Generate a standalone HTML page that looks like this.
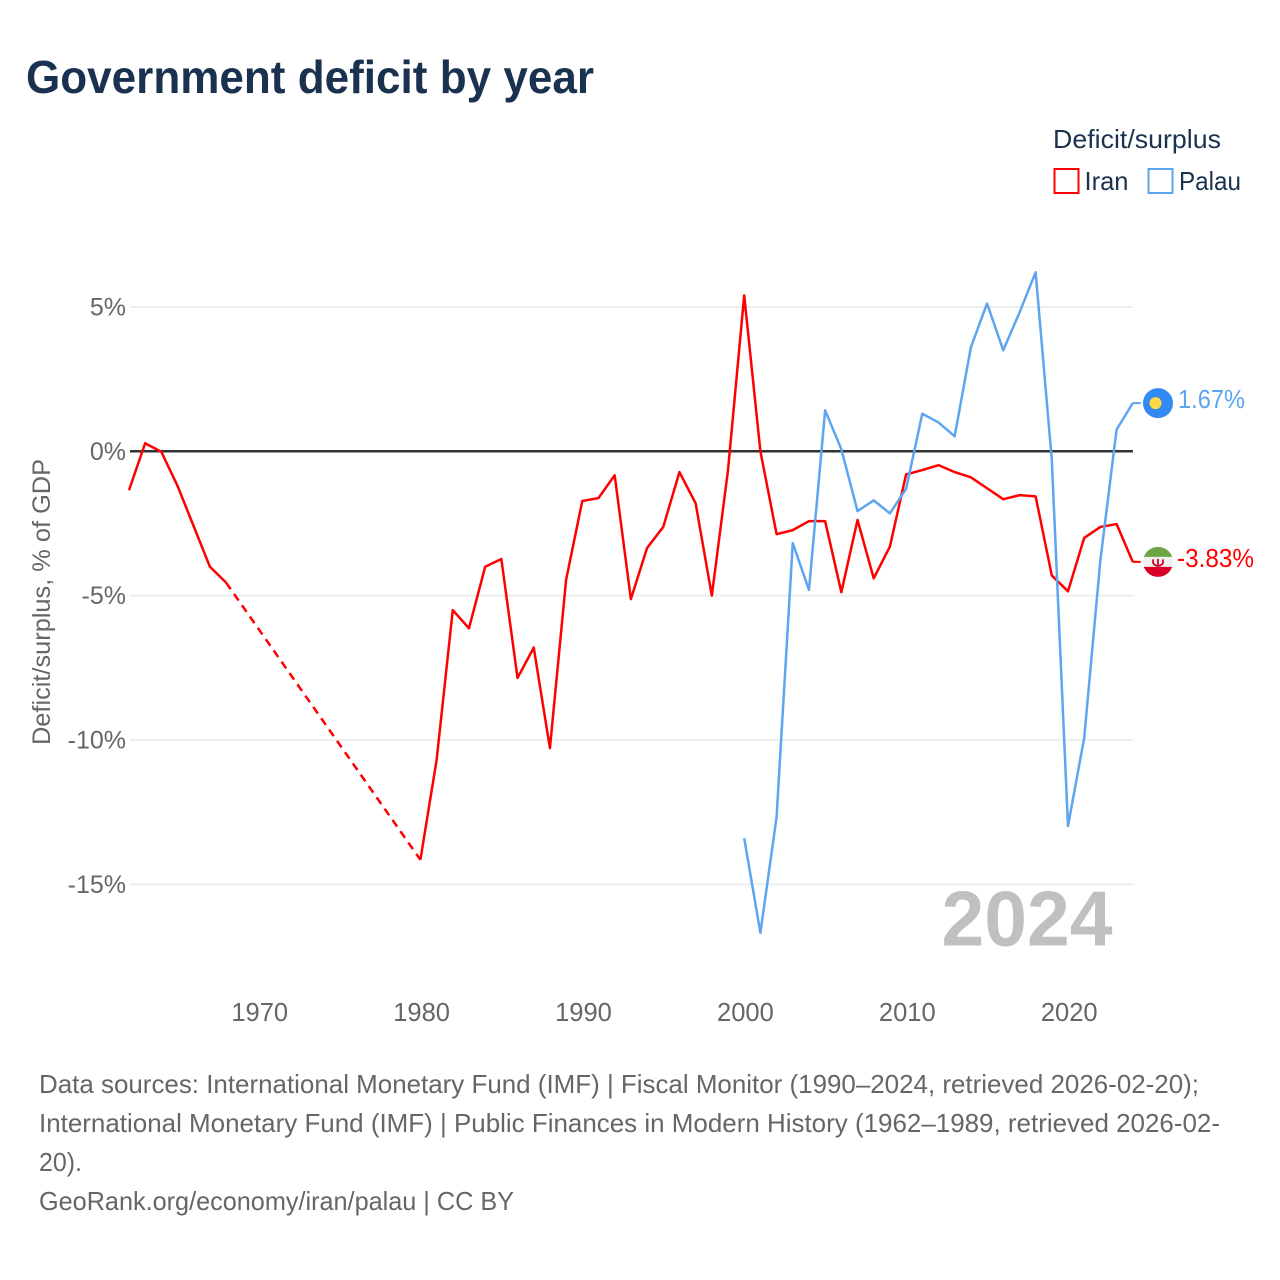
<!DOCTYPE html>
<html lang="en">
<head>
<meta charset="utf-8">
<title>Government deficit by year</title>
<style>
html,body{margin:0;padding:0;background:#fff;width:1280px;height:1280px;overflow:hidden}
svg{display:block}
text{font-family:"Liberation Sans",sans-serif}
</style>
</head>
<body>
<svg id="chart" xmlns="http://www.w3.org/2000/svg" width="1280" height="1280" viewBox="0 0 1280 1280">
  <rect width="1280" height="1280" fill="#fff"/>
  <text x="26" y="93" font-size="46" font-weight="700" fill="#1a3150" textLength="568" lengthAdjust="spacingAndGlyphs">Government deficit by year</text>

  <g>
    <text x="1053" y="148" font-size="26" fill="#1a3150" textLength="168" lengthAdjust="spacingAndGlyphs">Deficit/surplus</text>
    <rect x="1054.5" y="169" width="24" height="24" fill="#fff" stroke="#ff0000" stroke-width="2"/>
    <text x="1084.5" y="190" font-size="26" fill="#1a3150" textLength="44" lengthAdjust="spacingAndGlyphs">Iran</text>
    <rect x="1148.5" y="169" width="24" height="24" fill="#fff" stroke="#5da5ee" stroke-width="2"/>
    <text x="1179" y="190" font-size="26" fill="#1a3150" textLength="62" lengthAdjust="spacingAndGlyphs">Palau</text>
  </g>

  <g id="grid"></g>
  <g id="yticks"></g>
  <g id="xticks"></g>
  <text transform="translate(50,745) rotate(-90)" font-size="25" fill="#666" textLength="286" lengthAdjust="spacingAndGlyphs">Deficit/surplus, % of GDP</text>
  <text x="941.5" y="945.5" font-size="78" font-weight="700" fill="#c0c0c0" textLength="171" lengthAdjust="spacingAndGlyphs">2024</text>

  <g id="series"></g>

  <g>
    <g id="palau-flag">
      <circle cx="0" cy="0" r="15" fill="#338af3"/>
      <circle cx="-2.5" cy="0" r="6" fill="#ffda44"/>
    </g>
    <text id="palau-label" x="1178" font-size="26" fill="#5da5ee" textLength="67" lengthAdjust="spacingAndGlyphs">1.67%</text>
  </g>
  <g>
    <g id="iran-flag">
      <clipPath id="iran-clip"><circle cx="0" cy="0" r="15"/></clipPath>
      <g clip-path="url(#iran-clip)">
        <rect x="-15" y="-15" width="30" height="30" fill="#f0f0f0"/>
        <rect x="-15" y="-15" width="30" height="10" fill="#6da544"/>
        <rect x="-15" y="5" width="30" height="10" fill="#d80027"/>
        <path d="M-5-2.5v2.5a5 4 0 0 0 10 0v-2.5M0-3v7" fill="none" stroke="#d80027" stroke-width="1.8"/>
      </g>
    </g>
    <text id="iran-label" x="1177" font-size="26" fill="#ff0000" textLength="77" lengthAdjust="spacingAndGlyphs">-3.83%</text>
  </g>

  <g font-size="26" fill="#666">
    <text x="39" y="1093" textLength="1160" lengthAdjust="spacingAndGlyphs">Data sources: International Monetary Fund (IMF) | Fiscal Monitor (1990–2024, retrieved 2026-02-20);</text>
    <text x="39" y="1132" textLength="1181" lengthAdjust="spacingAndGlyphs">International Monetary Fund (IMF) | Public Finances in Modern History (1962–1989, retrieved 2026-02-</text>
    <text x="39" y="1171" textLength="43" lengthAdjust="spacingAndGlyphs">20).</text>
    <text x="39" y="1210" textLength="475" lengthAdjust="spacingAndGlyphs">GeoRank.org/economy/iran/palau | CC BY</text>
  </g>
</svg>
<script>
const yTickValues = [5, 0, -5, -10, -15];
const yTickLabels = ["5%", "0%", "-5%", "-10%", "-15%"];
const xTickValues = [1970, 1980, 1990, 2000, 2010, 2020];
const xTickLabels = ["1970", "1980", "1990", "2000", "2010", "2020"];
const iranYears = [1962,1963,1964,1965,1966,1967,1968,1980,1981,1982,1983,1984,1985,1986,1987,1988,1989,1990,1991,1992,1993,1994,1995,1996,1997,1998,1999,2000,2001,2002,2003,2004,2005,2006,2007,2008,2009,2010,2011,2012,2013,2014,2015,2016,2017,2018,2019,2020,2021,2022,2023,2024];
const iranValues = [-1.35,0.28,-0.02,-1.2,-2.6,-4.0,-4.55,-14.15,-10.7,-5.5,-6.13,-4.0,-3.73,-7.85,-6.8,-10.28,-4.45,-1.72,-1.62,-0.83,-5.12,-3.35,-2.62,-0.72,-1.8,-5.0,-0.65,5.4,0,-2.87,-2.73,-2.42,-2.42,-4.88,-2.38,-4.4,-3.3,-0.8,-0.65,-0.48,-0.72,-0.9,-1.28,-1.66,-1.52,-1.56,-4.3,-4.85,-3.0,-2.62,-2.52,-3.83];
const palauYears = [2000,2001,2002,2003,2004,2005,2006,2007,2008,2009,2010,2011,2012,2013,2014,2015,2016,2017,2018,2019,2020,2021,2022,2023,2024];
const palauValues = [-13.4,-16.68,-12.67,-3.18,-4.8,1.42,0.07,-2.07,-1.7,-2.15,-1.3,1.3,1.0,0.52,3.6,5.12,3.5,4.8,6.2,-0.3,-12.98,-9.93,-3.77,0.75,1.67];

const NS = "http://www.w3.org/2000/svg";
const xScale = function (year) { return 258.5 + (year - 1970) * 16.19; };
const yScale = function (value) { return 451.3 - value * 28.87; };
const plotLeft = 130;
const plotRight = 1133;
const xLabelOffset = 1.2;

function make(tag, attrs, parent) {
  const el = document.createElementNS(NS, tag);
  Object.keys(attrs).forEach(function (k) { el.setAttribute(k, attrs[k]); });
  parent.appendChild(el);
  return el;
}

const gridGroup = document.getElementById("grid");
const yTickGroup = document.getElementById("yticks");
const xTickGroup = document.getElementById("xticks");
const seriesGroup = document.getElementById("series");

yTickValues.forEach(function (v, i) {
  const isZero = v === 0;
  const line = make("line", { x1: plotLeft, x2: plotRight, y1: yScale(v), y2: yScale(v), stroke: "#eeeeee", "stroke-width": 2 }, gridGroup);
  
  
  if (isZero) {
    line.setAttribute("stroke", "#333333");
    line.setAttribute("stroke-width", 2.5);
  }
  const label = make("text", { x: 126, y: yScale(v) + 8.5, "text-anchor": "end", "font-size": 25, fill: "#666" }, yTickGroup);
  
  
  label.textContent = yTickLabels[i];
});

xTickValues.forEach(function (v, i) {
  const label = make("text", { x: xScale(v) + xLabelOffset, y: 1021, "text-anchor": "middle", "font-size": 25.5, fill: "#666" }, xTickGroup);
  
  
  label.textContent = xTickLabels[i];
});

function drawSeries(years, values, color) {
  let run = [];
  const flush = function () {
    if (run.length > 1) {
      const solid = make("polyline", { points: run.join(" "), fill: "none", stroke: color, "stroke-width": 2.5, "stroke-linejoin": "round" }, seriesGroup);
      
      
    }
    run = [];
  };
  years.forEach(function (year, i) {
    const px = xScale(year);
    const py = yScale(values[i]);
    if (i > 0 && year - years[i - 1] > 1) {
      flush();
      const dash = make("line", { x1: xScale(years[i - 1]), y1: yScale(values[i - 1]), x2: px, y2: py, stroke: color, "stroke-width": 2.5, "stroke-dasharray": "8 5.8" }, seriesGroup);
      
      
    }
    run.push(px.toFixed(2) + "," + py.toFixed(2));
  });
  flush();
  const lastX = xScale(years[years.length - 1]);
  const lastY = yScale(values[values.length - 1]);
  const tail = make("line", { x1: lastX, y1: lastY, x2: lastX + 8, y2: lastY, stroke: color, "stroke-width": 2 }, seriesGroup);
  
  
  return lastY;
}

const iranEndY = drawSeries(iranYears, iranValues, "#ff0000");
const palauEndY = drawSeries(palauYears, palauValues, "#5da5ee");

document.getElementById("palau-flag").setAttribute("transform", "translate(1158," + palauEndY + ")");
document.getElementById("iran-flag").setAttribute("transform", "translate(1158," + iranEndY + ")");
document.getElementById("palau-label").setAttribute("y", palauEndY + 5);
document.getElementById("iran-label").setAttribute("y", iranEndY + 5);
</script>
</body>
</html>
